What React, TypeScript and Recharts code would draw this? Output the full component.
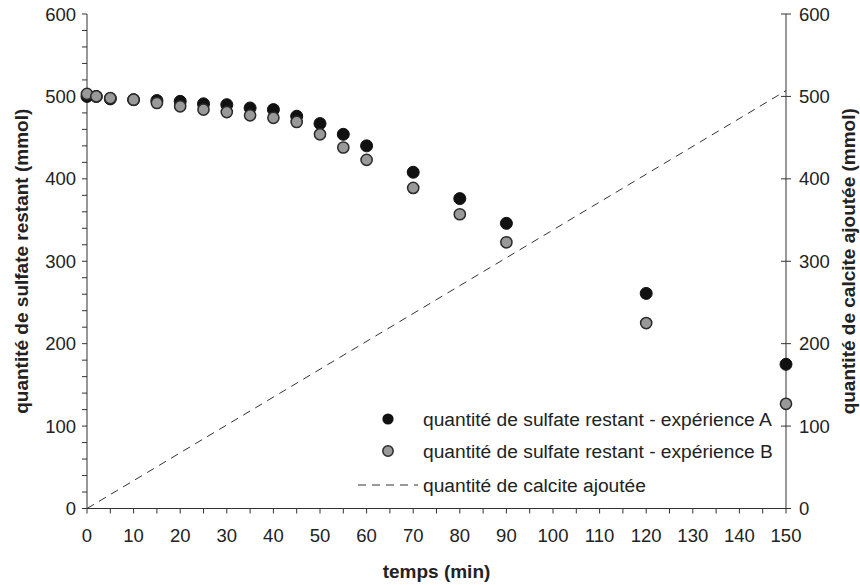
import React from 'react';
import { ComposedChart, Scatter, XAxis, YAxis } from 'recharts';

const times = [0, 2, 5, 10, 15, 20, 25, 30, 35, 40, 45, 50, 55, 60, 70, 80, 90, 120, 150];
const sulfateA = [500, 500, 497, 496, 495, 494, 491, 490, 486, 484, 476, 467, 454, 440, 408, 376, 346, 261, 175];
const sulfateB = [503, 500, 498, 496, 492, 488, 484, 481, 477, 474, 469, 454, 438, 423, 389, 357, 323, 225, 127];
const calciteTimes = [0, 150];
const calciteValues = [0, 507];

const xTicks = [0, 5, 10, 15, 20, 25, 30, 35, 40, 45, 50, 55, 60, 65, 70, 75, 80, 85, 90, 95, 100, 105, 110, 115, 120, 125, 130, 135, 140, 145, 150];
const leftTicks = [0, 20, 40, 60, 80, 100, 120, 140, 160, 180, 200, 220, 240, 260, 280, 300, 320, 340, 360, 380, 400, 420, 440, 460, 480, 500, 520, 540, 560, 580, 600];
const rightTicks = [0, 100, 200, 300, 400, 500, 600];

const legendNames = [
  'quantité de sulfate restant - expérience A',
  'quantité de sulfate restant - expérience B',
  'quantité de calcite ajoutée',
];

const dataA = times.map((t, i) => ({ t, v: sulfateA[i] }));
const dataB = times.map((t, i) => ({ t, v: sulfateB[i] }));
const dataC = calciteTimes.map((t, i) => ({ t, v: calciteValues[i] }));

const FONT = '"Liberation Sans", Arial, sans-serif';
const TXT = '#222';
const TICK_FS = 18.5;

const DotA = (p: any) => <circle cx={p.cx} cy={p.cy} r={6} fill="#111" stroke="#111" strokeWidth={1} />;
const DotB = (p: any) => <circle cx={p.cx} cy={p.cy} r={5.6} fill="#999" stroke="#2a2a2a" strokeWidth={1.5} />;

const RightTick = (p: any) => {
  const { x, y, payload } = p;
  return (
    <g>
      <line x1={x - 5} x2={x + 5} y1={y} y2={y} stroke="#333" strokeWidth={1} />
      <text x={x + 13} y={y} dy={6.5} fill={TXT} fontSize={TICK_FS} fontFamily={FONT} textAnchor="start">
        {payload.value}
      </text>
    </g>
  );
};

const LegendBox = () => {
  const rows = [419, 451, 485];
  return (
    <svg width={480} height={110} style={{ position: 'absolute', left: 350, top: 400 }}>
      <circle cx={38} cy={rows[0] - 400} r={5.6} fill="#111" />
      <circle cx={38} cy={rows[1] - 400} r={5.2} fill="#999" stroke="#2a2a2a" strokeWidth={1.5} />
      <line x1={8} x2={68} y1={rows[2] - 400} y2={rows[2] - 400} stroke="#333" strokeDasharray="8 6" />
      {legendNames.map((n, i) => (
        <text key={n} x={73} y={rows[i] - 400} dy={6.5} fill={TXT} fontSize={19.2} fontFamily={FONT}>
          {n}
        </text>
      ))}
    </svg>
  );
};

export default function App() {
  return (
    <div style={{ position: 'absolute', left: 0, top: 0, width: 860, height: 585, background: '#fff' }}>
      <ComposedChart width={860} height={585} margin={{ top: 14, right: 0, bottom: 0, left: 0 }}>
        <XAxis
          type="number"
          dataKey="t"
          domain={[0, 150]}
          ticks={xTicks}
          interval={0}
          height={76.5}
          tickSize={5}
          tickMargin={15}
          axisLine={{ stroke: '#333' }}
          tickLine={{ stroke: '#333' }}
          tick={{ fill: TXT, fontSize: TICK_FS, fontFamily: FONT }}
          tickFormatter={(v: number) => (v % 10 === 0 ? String(v) : '')}
          label={{ value: 'temps (min)', position: 'insideBottom', offset: 7, fill: TXT, fontSize: 19, fontWeight: 'bold', fontFamily: FONT }}
        />
        <YAxis
          yAxisId="left"
          type="number"
          domain={[0, 600]}
          ticks={leftTicks}
          interval={0}
          width={87}
          tickSize={5}
          tickMargin={6}
          axisLine={{ stroke: '#333' }}
          tickLine={{ stroke: '#333' }}
          tick={{ fill: TXT, fontSize: TICK_FS, fontFamily: FONT }}
          tickFormatter={(v: number) => (v % 100 === 0 ? String(v) : '')}
          label={{ value: 'quantité de sulfate restant (mmol)', angle: -90, position: 'insideLeft', offset: 21, style: { textAnchor: 'middle' }, fill: TXT, fontSize: 19, fontWeight: 'bold', fontFamily: FONT }}
        />
        <YAxis
          yAxisId="right"
          orientation="right"
          type="number"
          domain={[0, 600]}
          ticks={rightTicks}
          interval={0}
          width={74}
          tickSize={0}
          tickMargin={0}
          tickLine={false}
          axisLine={{ stroke: '#333' }}
          tick={<RightTick />}
          label={{ value: 'quantité de calcite ajoutée (mmol)', angle: -90, position: 'insideRight', offset: 12, style: { textAnchor: 'middle' }, fill: TXT, fontSize: 19, fontWeight: 'bold', fontFamily: FONT }}
        />
        <Scatter
          yAxisId="right"
          data={dataC}
          dataKey="v"
          line={{ stroke: '#333', strokeWidth: 1, strokeDasharray: '8 6' }}
          shape={() => null}
          isAnimationActive={false}
        />
        <Scatter yAxisId="left" data={dataA} dataKey="v" shape={<DotA />} isAnimationActive={false} />
        <Scatter yAxisId="left" data={dataB} dataKey="v" shape={<DotB />} isAnimationActive={false} />
      </ComposedChart>
      <LegendBox />
    </div>
  );
}
